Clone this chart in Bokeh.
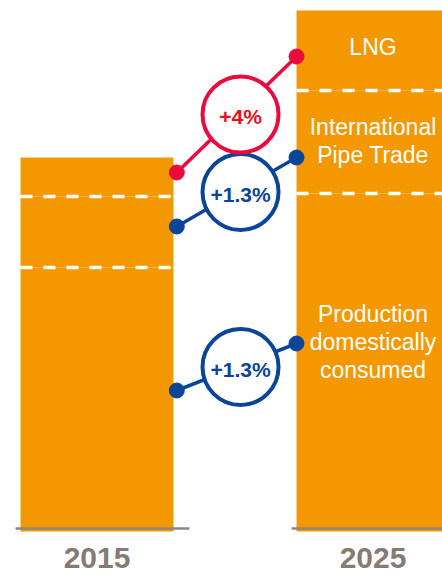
from bokeh.plotting import figure
from bokeh.models import ColumnDataSource, Range1d
from bokeh.embed import file_html
from bokeh.resources import INLINE
from bokeh.core.properties import value

# ---------------- data ----------------
years = ["2015", "2025"]
production = [2.64, 3.38]      # Production domestically consumed
pipe_trade = [0.71, 1.03]      # International Pipe Trade
lng = [0.39, 0.80]             # LNG
segment_labels = [["Production", "domestically", "consumed"],
                  ["International", "Pipe Trade"],
                  ["LNG"]]
growth_labels = ["+1.3%", "+1.3%", "+4%"]
conn_2015 = [1.41, 3.05, 3.59]   # connector level at 2015 side
conn_2025 = [1.88, 3.74, 4.75]   # connector level at 2025 side

# ---------------- style ----------------
ORANGE = "#F39800"
RED = "#EB0A3C"
RED_TXT = "#E8101E"
BLUE = "#0B4598"
GRAY = "#8C8782"
YEAR_TXT = "#857B74"
FONT = value("Liberation Sans")
BAR_W = 0.5543
label_frac = [0.56, 0.51, 0.55]
conn_colors = [BLUE, BLUE, RED]
txt_colors = [BLUE, BLUE, RED_TXT]

xs = [0, 1]

p = figure(width=442, height=574,
           x_range=Range1d(-0.34964, 1.25181), y_range=Range1d(-0.43, 5.31),
           output_backend="svg", toolbar_location=None, min_border=0)
p.axis.visible = False
p.grid.visible = False
p.outline_line_color = None
p.background_fill_color = "white"
p.border_fill_color = "white"

src = ColumnDataSource(dict(x=xs, production=production, pipe=pipe_trade, lng=lng))
p.vbar_stack(["production", "pipe", "lng"], x="x", width=BAR_W,
             color=[ORANGE, ORANGE, ORANGE], line_color=None, source=src)

# dashed boundaries between segments
b1 = production
b2 = [a + b for a, b in zip(production, pipe_trade)]
p.segment(x0=[x - BAR_W / 2 for x in xs] * 2, x1=[x + BAR_W / 2 for x in xs] * 2,
          y0=b1 + b2, y1=b1 + b2, line_color="white", line_width=3.5,
          line_dash="12 11")

# baseline
p.segment(x0=[x - 0.295 for x in xs], x1=[x + 0.335 for x in xs],
          y0=[0.03, 0.03], y1=[0.03, 0.03], line_color=GRAY, line_width=2.5)

# year labels
p.text(x=xs, y=[-0.265, -0.265], text=years, text_align="center",
       text_baseline="middle", text_font=FONT, text_font_style="bold",
       text_font_size="30px", text_color=YEAR_TXT)

# segment labels in 2025 bar
bottoms = [0, b1[1], b2[1]]
heights = [production[1], pipe_trade[1], lng[1]]
LINE = 0.28
for lines, bot, h, f in zip(segment_labels, bottoms, heights, label_frac):
    c = bot + f * h
    n = len(lines)
    ys = [c + ((n - 1) / 2 - i) * LINE for i in range(n)]
    p.text(x=[1.0] * n, y=ys, text=lines, text_align="center",
           text_baseline="middle", text_font=FONT, text_font_size="23px",
           text_color="white")

# connectors
x0 = 0 + BAR_W / 2 + 0.012
x1 = 1 - BAR_W / 2
for a, b, col, lab, tcol in zip(conn_2015, conn_2025, conn_colors, growth_labels, txt_colors):
    p.line([x0, x1], [a, b], line_color=col, line_width=3.5)
    cy = (a + b) / 2
    cx = 0.52
    p.scatter([cx], [cy], marker="circle", size=76, fill_color="white",
              line_color=col, line_width=4)
    p.text(x=[cx], y=[cy - 0.02], text=[lab], text_align="center",
           text_baseline="middle", text_font=FONT, text_font_style="bold",
           text_font_size="21px", text_color=tcol)
    p.scatter([x0, x1], [a, b], marker="circle", size=15, fill_color=col,
              line_color=col)

open("out.html", "w").write(file_html(p, INLINE))
